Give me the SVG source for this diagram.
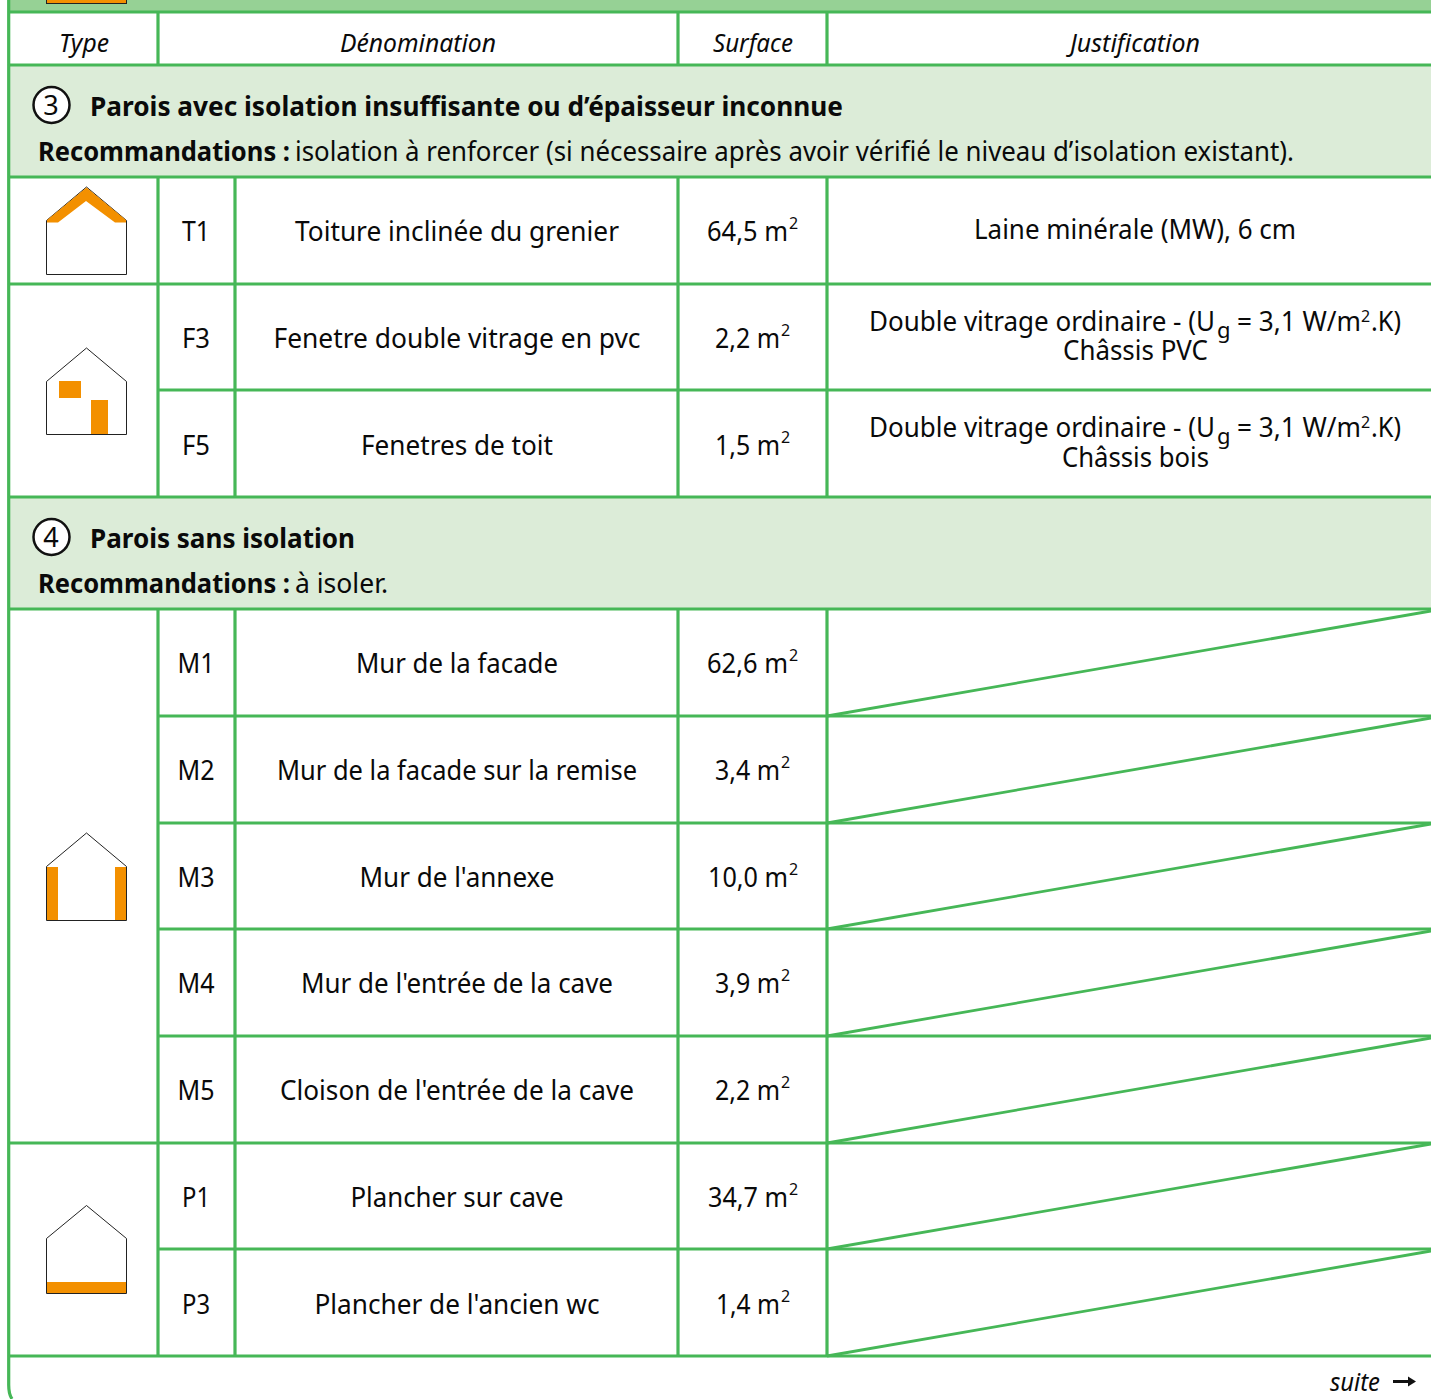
<svg xmlns="http://www.w3.org/2000/svg" width="1431" height="1399" viewBox="0 0 1431 1399">
<style>
text{font-family:"Noto Sans","Open Sans","Liberation Sans",sans-serif;font-size:27px;fill:#0a0a0a;text-anchor:middle}
.i{font-style:italic;font-size:25px}
.b{font-weight:700;text-anchor:start}
.s{text-anchor:start}
.u{font-size:16px}
.g{fill:none;stroke:#46b757;stroke-width:3.200}
.d{fill:none;stroke:#46b757;stroke-width:2.800}
.h{fill:#fff;stroke:#222;stroke-width:1}
.o{fill:#f39000}
</style>
<rect width="1431" height="1399" fill="#fff"/>
<rect x="9" y="0" width="1422" height="12" fill="#96d195"/>
<rect x="10" y="66" width="1421" height="111" fill="#dcecd8"/>
<rect x="10" y="498" width="1421" height="111" fill="#dcecd8"/>
<rect x="46.500" y="-2" width="80" height="5.500" fill="#f39000" stroke="#222"/>
<g id="connectors">
<path class="g" d="M8.700 0V1385Q8.700 1394 12 1399M9 12H1431M9 65H1431M9 177H1431M9 284H1431M158 390H1431M9 497H1431M9 609H1431M158 716H1431M158 823H1431M158 929H1431M158 1036H1431M9 1143H1431M158 1249H1431M9 1356H1431"/>
<path class="g" d="M158 12V65M678 12V65M827 12V65M158 177V497M235 177V497M678 177V497M827 177V497M158 609V1356M235 609V1356M678 609V1356M827 609V1356"/>
<path class="d" d="M827 716L1431 611M827 823L1431 718M827 929L1431 824M827 1036L1431 931M827 1143L1431 1038M827 1249L1431 1144M827 1356L1431 1251"/>
</g>
<g id="header">
<text class="i" x="84" y="52" textLength="50" lengthAdjust="spacingAndGlyphs">Type</text>
<text class="i" x="418" y="52" textLength="156" lengthAdjust="spacingAndGlyphs">Dénomination</text>
<text class="i" x="753" y="52" textLength="80" lengthAdjust="spacingAndGlyphs">Surface</text>
<text class="i" x="1135" y="52" textLength="130" lengthAdjust="spacingAndGlyphs">Justification</text>
</g>
<g id="section3">
<circle cx="51.500" cy="105" r="18" fill="#fff" stroke="#111" stroke-width="2.500"/>
<text x="51" y="115">3</text>
<text class="b" x="90" y="116" textLength="753" lengthAdjust="spacingAndGlyphs">Parois avec isolation insuffisante ou d’épaisseur inconnue</text>
<text class="s" y="161"><tspan class="b" x="38" y="161" textLength="252" lengthAdjust="spacingAndGlyphs">Recommandations :</tspan><tspan x="295" y="161" textLength="999" lengthAdjust="spacingAndGlyphs">isolation à renforcer (si nécessaire après avoir vérifié le niveau d’isolation existant).</tspan></text>
</g>
<g id="section4">
<circle cx="51.500" cy="537" r="18" fill="#fff" stroke="#111" stroke-width="2.500"/>
<text x="51" y="547">4</text>
<text class="b" x="90" y="548" textLength="265" lengthAdjust="spacingAndGlyphs">Parois sans isolation</text>
<text class="s" y="593"><tspan class="b" x="38" y="593" textLength="252" lengthAdjust="spacingAndGlyphs">Recommandations :</tspan><tspan x="295" y="593" textLength="93" lengthAdjust="spacingAndGlyphs">à isoler.</tspan></text>
</g>
<g id="icon-t1">
<path class="h" d="M46.500 220.500L86.500 187L126.500 220.500V274.500H46.500Z"/>
<path class="o" d="M47 220L86.500 187.500L126 220V222.500H115L86 201L58 222.500H47Z"/>
</g>
<g id="icon-f">
<path class="h" d="M46.500 381.500L86.500 348L126.500 381.500V434.500H46.500Z"/>
<rect class="o" x="59" y="381" width="22" height="17"/>
<rect class="o" x="91" y="400" width="17" height="34"/>
</g>
<g id="icon-m">
<path class="h" d="M46.500 866.500L86.500 833L126.500 866.500V920.500H46.500Z"/>
<rect class="o" x="47" y="867" width="11" height="53"/>
<rect class="o" x="115" y="867" width="11" height="53"/>
</g>
<g id="icon-p">
<path class="h" d="M46.500 1238.500L86.500 1205.500L126.500 1238.500V1293.500H46.500Z"/>
<rect class="o" x="47" y="1282" width="79" height="11"/>
</g>
<g id="row-t1"><text x="196" y="241" textLength="28" lengthAdjust="spacingAndGlyphs">T1</text><text x="457" y="241" textLength="324" lengthAdjust="spacingAndGlyphs">Toiture inclinée du grenier</text><text class="s"><tspan x="707" y="241" textLength="81" lengthAdjust="spacingAndGlyphs">64,5 m</tspan><tspan class="u" x="789" y="229">2</tspan></text><text x="1135" y="239" textLength="322" lengthAdjust="spacingAndGlyphs">Laine minérale (MW), 6 cm</text></g>
<g id="row-f3"><text x="196" y="348" textLength="28" lengthAdjust="spacingAndGlyphs">F3</text><text x="457" y="348" textLength="367" lengthAdjust="spacingAndGlyphs">Fenetre double vitrage en pvc</text><text class="s"><tspan x="715" y="348" textLength="65" lengthAdjust="spacingAndGlyphs">2,2 m</tspan><tspan class="u" x="781" y="336">2</tspan></text><text class="s"><tspan x="869" y="331" textLength="346" lengthAdjust="spacingAndGlyphs">Double vitrage ordinaire - (U</tspan><tspan x="1217" y="338" font-size="22">g</tspan><tspan x="1237" y="331" textLength="124" lengthAdjust="spacingAndGlyphs">= 3,1 W/m</tspan><tspan class="u" x="1361" y="322">2</tspan><tspan x="1371" y="331" textLength="30" lengthAdjust="spacingAndGlyphs">.K)</tspan><tspan x="1063" y="360" textLength="145" lengthAdjust="spacingAndGlyphs">Châssis PVC</tspan></text></g>
<g id="row-f5"><text x="196" y="455" textLength="28" lengthAdjust="spacingAndGlyphs">F5</text><text x="457" y="455" textLength="192" lengthAdjust="spacingAndGlyphs">Fenetres de toit</text><text class="s"><tspan x="715" y="455" textLength="65" lengthAdjust="spacingAndGlyphs">1,5 m</tspan><tspan class="u" x="781" y="443">2</tspan></text><text class="s"><tspan x="869" y="437" textLength="346" lengthAdjust="spacingAndGlyphs">Double vitrage ordinaire - (U</tspan><tspan x="1217" y="444" font-size="22">g</tspan><tspan x="1237" y="437" textLength="124" lengthAdjust="spacingAndGlyphs">= 3,1 W/m</tspan><tspan class="u" x="1361" y="428">2</tspan><tspan x="1371" y="437" textLength="30" lengthAdjust="spacingAndGlyphs">.K)</tspan><tspan x="1062" y="467" textLength="147" lengthAdjust="spacingAndGlyphs">Châssis bois</tspan></text></g>
<g id="row-m1"><text x="196" y="673" textLength="37" lengthAdjust="spacingAndGlyphs">M1</text><text x="457" y="673" textLength="202" lengthAdjust="spacingAndGlyphs">Mur de la facade</text><text class="s"><tspan x="707" y="673" textLength="81" lengthAdjust="spacingAndGlyphs">62,6 m</tspan><tspan class="u" x="789" y="661">2</tspan></text></g>
<g id="row-m2"><text x="196" y="780" textLength="37" lengthAdjust="spacingAndGlyphs">M2</text><text x="457" y="780" textLength="360" lengthAdjust="spacingAndGlyphs">Mur de la facade sur la remise</text><text class="s"><tspan x="715" y="780" textLength="65" lengthAdjust="spacingAndGlyphs">3,4 m</tspan><tspan class="u" x="781" y="768">2</tspan></text></g>
<g id="row-m3"><text x="196" y="887" textLength="37" lengthAdjust="spacingAndGlyphs">M3</text><text x="457" y="887" textLength="195" lengthAdjust="spacingAndGlyphs">Mur de l'annexe</text><text class="s"><tspan x="708" y="887" textLength="80" lengthAdjust="spacingAndGlyphs">10,0 m</tspan><tspan class="u" x="789" y="875">2</tspan></text></g>
<g id="row-m4"><text x="196" y="993" textLength="37" lengthAdjust="spacingAndGlyphs">M4</text><text x="457" y="993" textLength="312" lengthAdjust="spacingAndGlyphs">Mur de l'entrée de la cave</text><text class="s"><tspan x="715" y="993" textLength="65" lengthAdjust="spacingAndGlyphs">3,9 m</tspan><tspan class="u" x="781" y="981">2</tspan></text></g>
<g id="row-m5"><text x="196" y="1100" textLength="37" lengthAdjust="spacingAndGlyphs">M5</text><text x="457" y="1100" textLength="354" lengthAdjust="spacingAndGlyphs">Cloison de l'entrée de la cave</text><text class="s"><tspan x="715" y="1100" textLength="65" lengthAdjust="spacingAndGlyphs">2,2 m</tspan><tspan class="u" x="781" y="1088">2</tspan></text></g>
<g id="row-p1"><text x="196" y="1207" textLength="28" lengthAdjust="spacingAndGlyphs">P1</text><text x="457" y="1207" textLength="213" lengthAdjust="spacingAndGlyphs">Plancher sur cave</text><text class="s"><tspan x="708" y="1207" textLength="80" lengthAdjust="spacingAndGlyphs">34,7 m</tspan><tspan class="u" x="789" y="1195">2</tspan></text></g>
<g id="row-p3"><text x="196" y="1314" textLength="28" lengthAdjust="spacingAndGlyphs">P3</text><text x="457" y="1314" textLength="285" lengthAdjust="spacingAndGlyphs">Plancher de l'ancien wc</text><text class="s"><tspan x="716" y="1314" textLength="64" lengthAdjust="spacingAndGlyphs">1,4 m</tspan><tspan class="u" x="781" y="1302">2</tspan></text></g>
<g id="suite">
<text class="i" x="1355" y="1391" textLength="50" lengthAdjust="spacingAndGlyphs">suite</text>
<path d="M1393 1381.500H1410" stroke="#111" stroke-width="3"/>
<path d="M1416 1381.500L1408 1376.500V1386.500Z" fill="#111"/>
</g>
</svg>
